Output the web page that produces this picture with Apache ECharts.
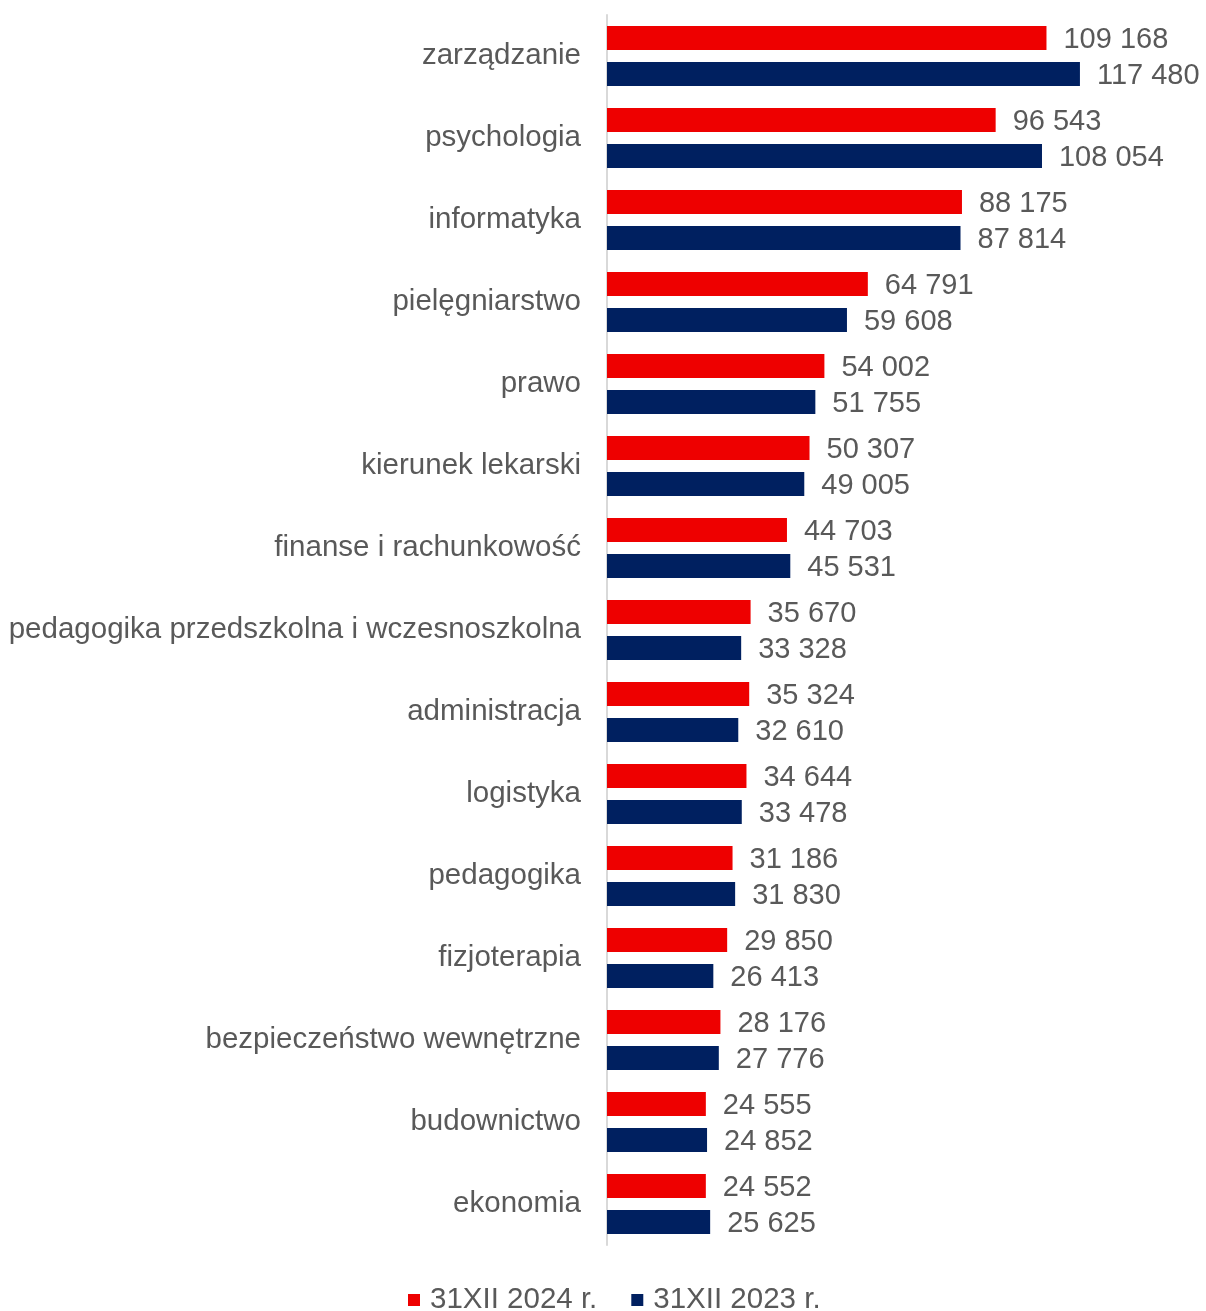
<!DOCTYPE html>
<html><head><meta charset="utf-8">
<script src="https://cdn.jsdelivr.net/npm/echarts@6/dist/echarts.min.js"></script>
<style>html,body{margin:0;padding:0;background:#fff}#c{width:1206px;height:1311px}</style>
</head><body><div id="c"></div>
<script>
const categories = ["zarządzanie","psychologia","informatyka","pielęgniarstwo","prawo","kierunek lekarski","finanse i rachunkowość","pedagogika przedszkolna i wczesnoszkolna","administracja","logistyka","pedagogika","fizjoterapia","bezpieczeństwo wewnętrzne","budownictwo","ekonomia"];
const values2024 = [109168,96543,88175,64791,54002,50307,44703,35670,35324,34644,31186,29850,28176,24555,24552];
const values2023 = [117480,108054,87814,59608,51755,49005,45531,33328,32610,33478,31830,26413,27776,24852,25625];
const seriesNames = ["31XII 2024 r.","31XII 2023 r."];

const fmt = v => String(v).replace(/\B(?=(\d{3})+(?!\d))/g, ' ');
const font = '"Liberation Sans", Arial, sans-serif';
const chart = echarts.init(document.getElementById('c'));
const lbl = {show:true, position:'right', distance:17, offset:[0,2], color:'#595959', fontSize:29, fontFamily:font, formatter:p=>fmt(p.value)};
chart.setOption({
  animation:false,
  grid:{left:607, top:15, bottom:66, width:563.6, containLabel:false},
  legend:{top:1280, left:403, itemWidth:12, itemHeight:12, itemGap:34,
    textStyle:{color:'#595959', fontSize:29.5, fontFamily:font, padding:[0,0,0,5]}, icon:'rect'},
  xAxis:{type:'value', min:0, max:140000, show:false},
  yAxis:{type:'category', data:categories, inverse:true,
    axisLine:{lineStyle:{color:'#D9D9D9', width:2}}, axisTick:{show:false},
    axisLabel:{color:'#595959', fontSize:29.5, fontFamily:font, margin:26}},
  series:[
    {name:seriesNames[0], type:'bar', data:values2024, barWidth:24, barGap:'50%', itemStyle:{color:'#EE0000'}, label:lbl},
    {name:seriesNames[1], type:'bar', data:values2023, barWidth:24, itemStyle:{color:'#002060'}, label:lbl}
  ]
});
</script></body></html>
